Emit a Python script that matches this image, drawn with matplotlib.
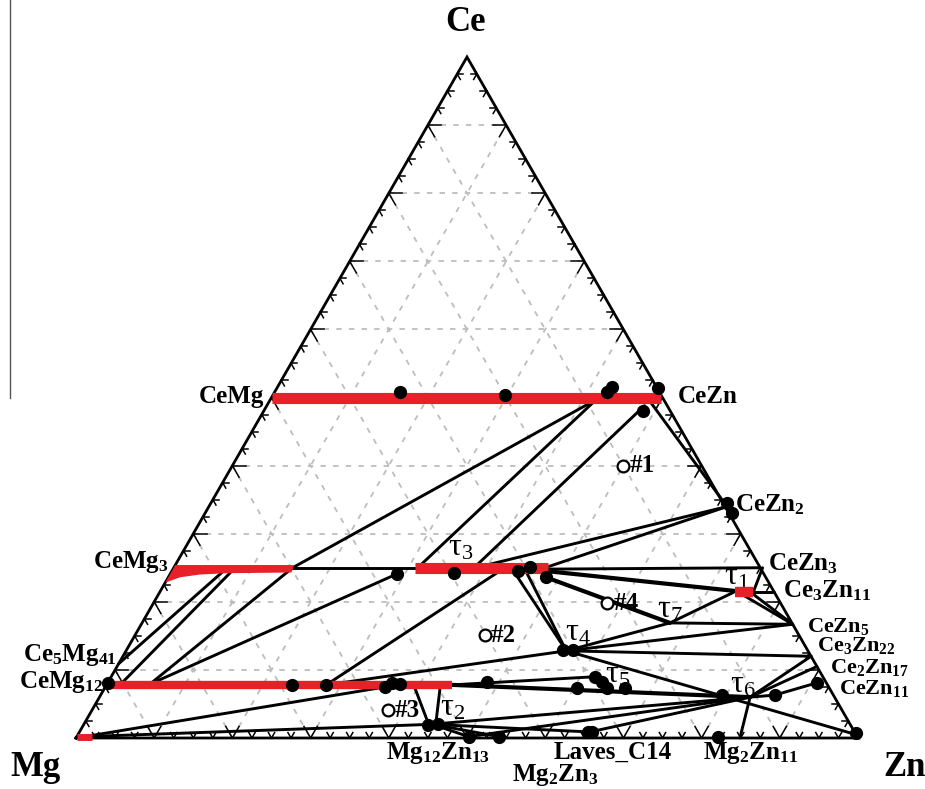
import matplotlib.pyplot as plt
import numpy as np

plt.rcParams['font.family'] = ['Liberation Serif', 'DejaVu Serif']
plt.rcParams['mathtext.fontset'] = 'custom'
plt.rcParams['mathtext.rm'] = 'Liberation Serif:bold'
plt.rcParams['mathtext.it'] = 'Liberation Serif:bold'
plt.rcParams['mathtext.bf'] = 'Liberation Serif:bold'

# compositions are given as (at.% Zn, at.% Ce), Mg is the balance
H = np.sqrt(3) / 2

# solubility ranges of the line compounds (start, end) at constant Ce
cemg_range = [(0.0, 50.0), (49.8, 50.0)]
tau3_range = [(30.9, 25.0), (47.9, 25.0)]
cemg12_range = [(0.0, 7.8), (44.2, 7.8)]
tau1_range = [(73.6, 21.4), (75.9, 21.4)]
mg_range = [(0.0, 0.2), (2.0, 0.2)]

# CeMg3 solid solution (upper edge then lower edge)
cemg3_top_zn = [0.0, 15.2]
cemg3_top_ce = [25.4, 25.4]
cemg3_bot_zn = [15.4, 7.2, 3.8, 1.5, 0.0]
cemg3_bot_ce = [24.3, 24.2, 24.0, 23.6, 22.8]

# experimental phase compositions (filled dots)
dots_zn = [16.0, 29.7, 42.5, 42.8, 48.7, 48.5,
           29.0, 36.2, 44.3, 45.5, 48.3,
           0.0, 23.7, 28.1, 35.8, 36.4, 37.5,
           66.0, 67.4,
           55.8, 57.1,
           48.5, 60.4, 61.9, 63.2, 64.2, 66.5,
           79.5, 86.2, 90.7, 99.4,
           44.1, 45.2, 50.1, 54.0, 65.0, 65.5, 82.0]
dots_ce = [50.8, 50.4, 50.8, 51.5, 51.4, 48.0,
           24.1, 24.2, 24.5, 25.1, 23.6,
           8.1, 7.8, 7.8, 7.5, 8.1, 7.9,
           34.5, 33.0,
           12.9, 12.9,
           8.2, 7.3, 9.0, 8.2, 7.3, 7.3,
           6.3, 6.3, 8.1, 0.7,
           1.9, 2.1, 0.2, 0.2, 0.9, 0.9, 0.2]

# alloy compositions (open circles)
alloys = ['#1', '#2', '#3', '#4']
alloy_zn = [50.0, 44.7, 37.9, 58.0]
alloy_ce = [40.0, 15.1, 4.1, 19.8]

# tie lines: ((Zn, Ce), (Zn, Ce))
tie_upper = [((15.2, 25.0), (42.0, 50.0)),
             ((31.2, 25.0), (41.8, 50.0)),
             ((48.3, 48.8), (38.4, 25.0)),
             ((48.6, 49.5), (65.9, 34.3)),
             ((66.3, 34.0), (39.8, 25.4)),
             ((66.3, 34.0), (47.9, 25.2)),
             ((15.0, 25.0), (31.0, 25.0))]
tie_left = [((6.5, 24.3), (0.0, 10.9)),
            ((7.6, 24.3), (1.8, 8.0)),
            ((5.5, 7.9), (15.2, 25.0)),
            ((5.5, 7.9), (29.0, 24.1)),
            ((28.1, 7.8), (42.0, 24.6)),
            ((28.1, 7.8), (56.3, 12.8)),
            ((1.0, 0.2), (35.8, 7.5)),
            ((1.0, 0.2), (44.3, 2.0))]
tie_middle = [((48.0, 24.8), (75.0, 25.0)),
              ((67.5, 16.9), (73.4, 21.4)),
              ((67.5, 16.9), (83.3, 16.7)),
              ((56.3, 12.8), (67.5, 16.9)),
              ((56.3, 12.8), (83.3, 16.7)),
              ((56.3, 12.8), (88.0, 12.0)),
              ((56.3, 12.8), (99.5, 0.5)),
              ((56.3, 12.8), (43.5, 24.7)),
              ((56.3, 12.8), (45.0, 24.8)),
              ((75.9, 21.4), (75.3, 25.0)),
              ((75.9, 21.4), (78.6, 21.4)),
              ((74.8, 21.0), (83.3, 16.7)),
              ((75.9, 21.2), (83.3, 16.7))]
tie_lower = [((83.2, 6.0), (44.3, 2.0)),
             ((83.2, 6.0), (50.1, 0.2)),
             ((83.2, 6.0), (65.3, 0.9)),
             ((83.2, 6.0), (84.9, 0.0)),
             ((83.2, 6.0), (88.0, 12.0)),
             ((83.2, 6.0), (89.5, 10.5)),
             ((83.2, 6.0), (86.2, 6.3)),
             ((86.2, 6.3), (90.7, 8.1)),
             ((39.7, 7.3), (44.1, 2.0)),
             ((42.9, 7.3), (45.0, 2.0)),
             ((44.2, 7.8), (61.9, 9.0)),
             ((44.6, 2.0), (50.1, 0.2)),
             ((44.6, 2.0), (54.0, 0.2)),
             ((44.6, 2.0), (65.0, 0.9))]
tie_thick = [((48.0, 24.5), (73.4, 21.6)),
             ((48.3, 23.6), (67.5, 16.9)),
             ((44.2, 7.8), (83.2, 6.0))]

edge_labels = [('CeMg', -1.1, 50.2, 'right'), ('CeZn', 51.9, 50.2, 'left'),
               ('CeZn$_2$', 67.2, 34.2, 'left'), ('CeZn$_3$', 75.7, 25.6, 'left'),
               ('Ce$_3$Zn$_{11}$', 79.6, 21.6, 'left'),
               ('CeMg$_3$', -1.1, 25.8, 'right'), ('Ce$_5$Mg$_{41}$', -0.9, 12.2, 'right'),
               ('CeMg$_{12}$', -0.65, 8.2, 'right')]
# Zn-rich compounds, packed tightly along the Ce-Zn side
stack_labels = [('CeZn$_5$', 85.3, 16.4), ('Ce$_3$Zn$_{22}$', 88.0, 13.6),
                ('Ce$_2$Zn$_{17}$', 91.2, 10.4), ('CeZn$_{11}$', 94.0, 7.2)]
bottom_labels = [('Mg$_{12}$Zn$_{13}$', 47.4, -2.2), ('Laves_C14', 69.7, -2.1),
                 ('Mg$_2$Zn$_3$', 64.0, -5.4), ('Mg$_2$Zn$_{11}$', 87.3, -2.2)]
tau_labels = [('1', 72.7, 23.6), ('2', 46.0, 4.4), ('3', 35.2, 27.9), ('4', 56.5, 15.4),
              ('5', 64.6, 9.25), ('6', 81.4, 7.8), ('7', 66.6, 18.8)]


def tern(zn, ce):
    zn = np.asarray(zn, float) / 100
    ce = np.asarray(ce, float) / 100
    return zn + ce / 2, ce * H


fig = plt.figure(figsize=(9.25, 7.89), dpi=100)
ax = fig.add_axes([0, 0, 1, 1])
ax.set_xlim(-76 / 782, 849 / 782)
ax.set_ylim(-51 / 681 * H, 738 / 681 * H)
ax.axis('off')

# dashed grid every 10 %
for k in range(1, 10):
    f = k * 10
    for a, b in [((0, f), (100 - f, f)), ((f, 0), (f, 100 - f)), ((0, 100 - f), (100 - f, 0))]:
        xs, ys = tern([a[0], b[0]], [a[1], b[1]])
        ax.plot(xs, ys, color='#bdbdbd', lw=1.3, ls=(0, (3, 4)), zorder=1)

# triangle frame
xs, ys = tern([0, 100, 0, 0], [0, 0, 100, 0])
ax.plot(xs, ys, color='black', lw=2.0, zorder=3, solid_joinstyle='miter')

# ticks along the edges, minor every 2.5 %, major every 10 %
up_r = np.array([0.5, H])
up_l = np.array([-0.5, H])
for f in np.arange(2.5, 100, 2.5):
    L = 0.017 if f % 10 == 0 else 0.008
    pts = {'bottom': (tern(f, 0), [up_r, up_l]),
           'left': (tern(0, f), [np.array([1, 0]), -up_l]),
           'right': (tern(100 - f, f), [np.array([-1, 0]), -up_r])}
    for p, dirs in pts.values():
        for d in dirs:
            ax.plot([p[0], p[0] + L * d[0]], [p[1], p[1] + L * d[1]],
                    color='black', lw=1.1, zorder=3)


def seg(pairs, lw=2.1):
    for a, b in pairs:
        xs, ys = tern([a[0], b[0]], [a[1], b[1]])
        ax.plot(xs, ys, color='black', lw=lw, zorder=4, solid_capstyle='round')


seg(tie_upper)
seg(tie_left)
seg(tie_middle)
seg(tie_lower)
seg(tie_thick, lw=3.0)

# red homogeneity ranges
for rng, w in [(cemg_range, 8.0), (tau3_range, 8.0), (cemg12_range, 6.0),
               (tau1_range, 7.5), (mg_range, 5.0)]:
    xs, ys = tern([rng[0][0], rng[1][0]], [rng[0][1], rng[1][1]])
    ax.plot(xs, ys, color='#e8202a', lw=w, solid_capstyle='butt', zorder=5)
px, py = tern(cemg3_top_zn + cemg3_bot_zn, cemg3_top_ce + cemg3_bot_ce)
ax.fill(px, py, color='#e8202a', lw=0, zorder=5)

dx, dy = tern(dots_zn, dots_ce)
ax.plot(dx, dy, 'o', color='black', ms=8.5, zorder=6)

ox, oy = tern(alloy_zn, alloy_ce)
ax.plot(ox, oy, 'o', mfc='white', mec='black', ms=8.5, mew=1.6, zorder=6)
for name, x, y in zip(alloys, ox, oy):
    ax.text(x + 0.008, y, name, fontsize=18, fontweight='bold',
            ha='left', va='center', zorder=7)

# labels
for txt, zn, ce, ha in edge_labels:
    x, y = tern(zn, ce)
    ax.text(x, y, txt, fontsize=18, fontweight='bold', ha=ha, va='center')
for txt, zn, ce in stack_labels:
    x, y = tern(zn, ce)
    ax.text(x, y, txt, fontsize=16, fontweight='bold', ha='left', va='center')
for txt, zn, ce in bottom_labels:
    x, y = tern(zn, ce)
    ax.text(x, y, txt, fontsize=18, fontweight='bold', ha='center', va='center')
for n, zn, ce in tau_labels:
    x, y = tern(zn, ce)
    ax.text(x, y, 'τ$_{\\mathregular{' + n + '}}$', fontsize=23,
            ha='center', va='center')

for txt, zn, ce in [('Ce', -2.7, 105.1), ('Mg', -3.0, -4.4), ('Zn', 108.2, -4.4)]:
    x, y = tern(zn, ce)
    ax.text(x, y, txt, fontsize=25, fontweight='bold', ha='center', va='center')

fig.add_artist(plt.Line2D([10 / 925, 10 / 925], [1, 1 - 398 / 789],
                          color='#555555', lw=1.0))

fig.savefig('out.png', dpi=100)
